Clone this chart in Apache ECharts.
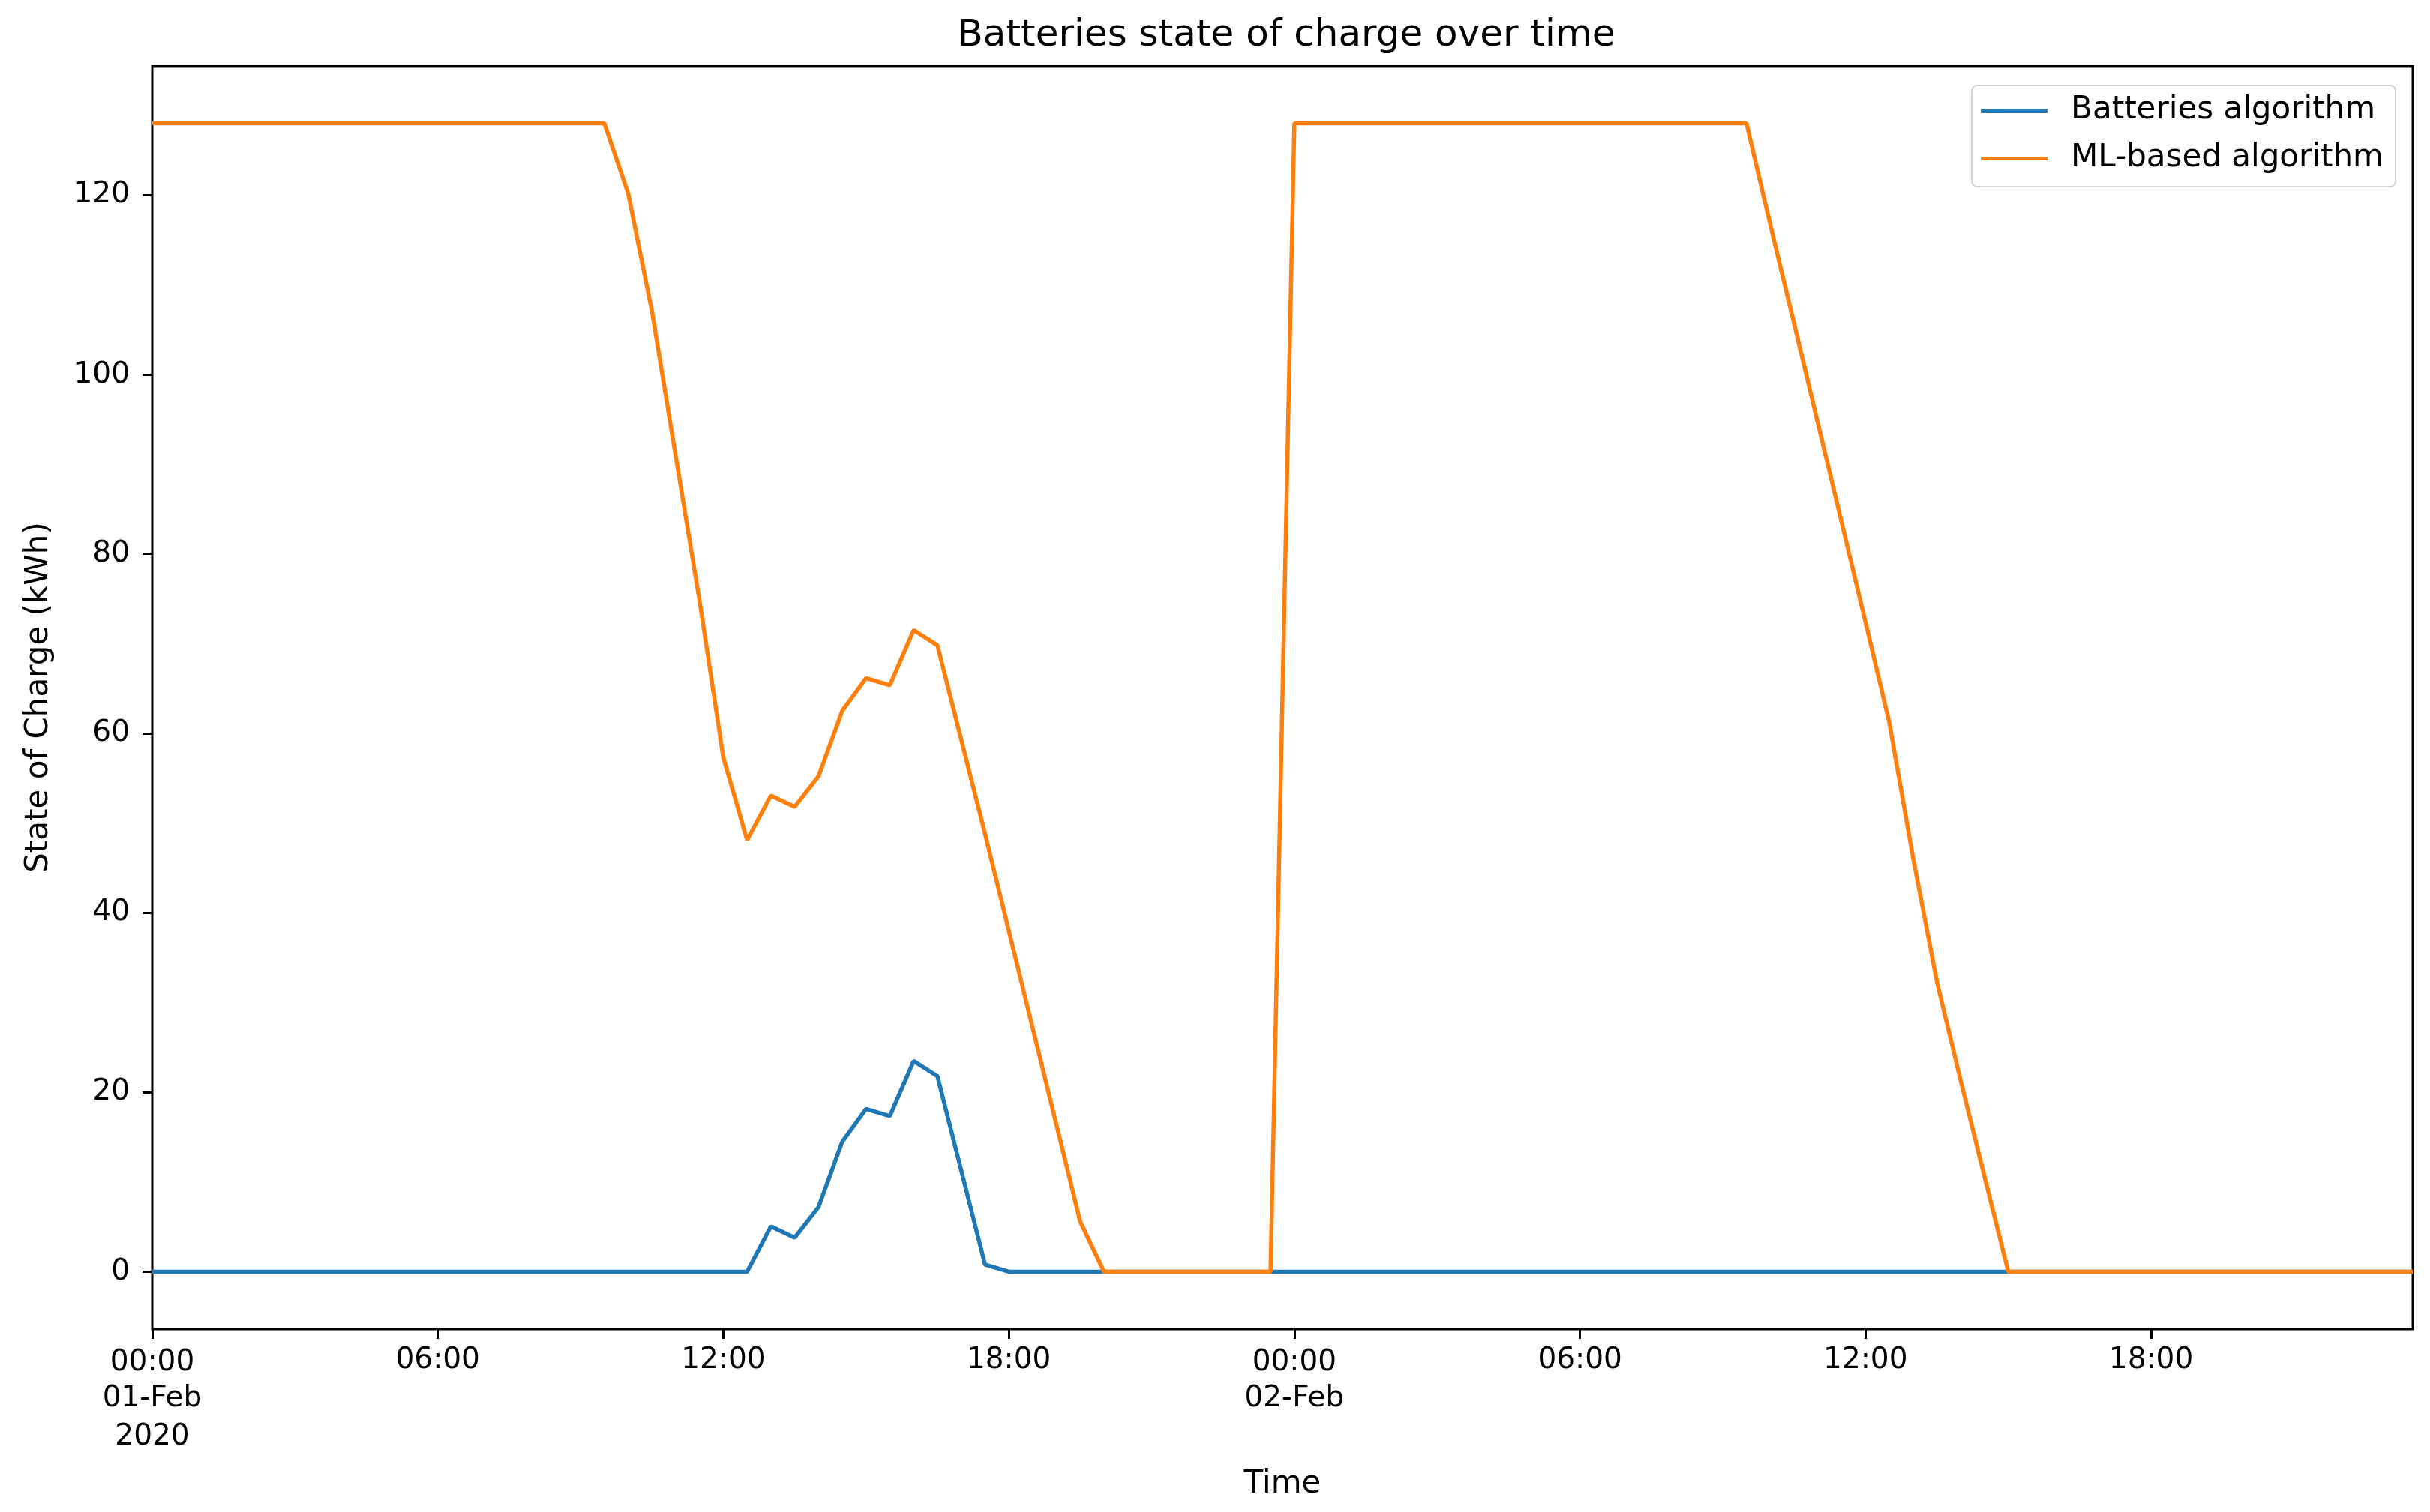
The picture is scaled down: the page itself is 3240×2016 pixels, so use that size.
<!DOCTYPE html>
<html><head><meta charset="utf-8">
<script src="https://cdn.jsdelivr.net/npm/echarts@6/dist/echarts.min.js"></script>
<style>html,body{margin:0;padding:0;background:#fff}#c{width:3240px;height:2016px}</style>
</head><body><div id="c"></div>
<script>
// Half-hourly timestamps, expressed as hours since 2020-02-01 00:00
const hours = Array.from({length: 96}, (_, i) => i * 0.5);
const seriesNames = ['Batteries algorithm', 'ML-based algorithm'];
const batteries = [
  0,0,0,0,0,0,0,0,0,0,0,0,0,0,0,0,0,0,0,0,0,0,0,0,0,0,
  5.05,3.8,7.2,14.5,18.15,17.35,23.5,21.8,11.3,0.8,
  0,0,0,0,0,0,0,0,0,0,0,0,0,0,0,0,0,0,0,0,0,0,0,0,0,0,0,0,0,0,
  0,0,0,0,0,0,0,0,0,0,0,0,0,0,0,0,0,0,0,0,0,0,0,0,0,0,0,0,0,0
];
const mlBased = [
  128,128,128,128,128,128,128,128,128,128,128,128,128,128,128,128,128,128,128,128,
  120.2,107.1,90.9,74.8,57.3,48.1,53.05,51.8,55.2,62.5,66.15,65.35,71.5,69.8,59.3,48.8,38.0,27.2,16.4,5.6,
  0,0,0,0,0,0,0,0,
  128,128,128,128,128,128,128,128,128,128,128,128,128,128,128,128,128,128,128,128,
  116.7,105.7,94.6,83.5,72.4,61.2,46.1,32.35,21.3,10.6,
  0,0,0,0,0,0,0,0,0,0,0,0,0,0,0,0,0,0
];
const xTickHours = [0, 6, 12, 18, 24, 30, 36, 42];
const xTickLabels = ['00:00\n01-Feb\n2020', '06:00', '12:00', '18:00', '00:00\n02-Feb', '06:00', '12:00', '18:00'];
const yTicks = [0, 20, 40, 60, 80, 100, 120];

const FONT = 'DejaVu Sans';
const chart = echarts.init(document.getElementById('c'), null, {renderer: 'canvas'});
const toPairs = arr => arr.map((v, i) => [hours[i], v]);

chart.setOption({
  animation: false,
  backgroundColor: '#fff',
  textStyle: {fontFamily: FONT},
  title: {
    text: 'Batteries state of charge over time',
    left: 1710, top: 13, textAlign: 'center',
    textStyle: {fontFamily: FONT, fontSize: 50, fontWeight: 'normal', color: '#000', lineHeight: 60}
  },
  legend: {
    orient: 'vertical', right: 46, top: 114,
    data: seriesNames,
    icon: 'rect', itemWidth: 89, itemHeight: 5, itemGap: 17,
    padding: [10, 16, 14, 12],
    borderColor: '#d4d4d4', borderWidth: 2, borderRadius: 7,
    backgroundColor: 'rgba(255,255,255,0.8)',
    textStyle: {fontFamily: FONT, fontSize: 42, color: '#000', lineHeight: 47, padding: [0, 0, 0, 26]}
  },
  grid: {
    left: 203, right: 23, top: 88, bottom: 244,
    show: true, borderColor: '#000', borderWidth: 3, backgroundColor: 'transparent'
  },
  xAxis: {
    type: 'value', min: 0, max: 47.5,
    name: 'Time', nameLocation: 'middle', nameGap: 184,
    nameTextStyle: {fontFamily: FONT, fontSize: 42, color: '#000', lineHeight: 46},
    axisLine: {show: false, onZero: false},
    splitLine: {show: false},
    axisTick: {show: true, length: 13, lineStyle: {color: '#000', width: 3}, customValues: xTickHours},
    axisLabel: {
      customValues: xTickHours, margin: 16,
      fontFamily: FONT, fontSize: 39, color: '#000', lineHeight: 51, align: 'center',
      formatter: v => {
        const k = xTickHours.indexOf(v);
        if (k < 0) return '';
        const lines = xTickLabels[k].split('\n');
        if (lines.length === 1) return lines[0];
        return '{f|' + lines[0] + '}\n' + lines.slice(1).join('\n');
      },
      rich: {f: {fontFamily: FONT, fontSize: 39, color: '#000', lineHeight: 51, padding: [7, 0, 0, 0]}}
    }
  },
  yAxis: {
    type: 'value', min: -6.4, max: 134.4,
    name: 'State of Charge (kWh)', nameLocation: 'middle', nameGap: 130, nameRotate: 90,
    nameTextStyle: {fontFamily: FONT, fontSize: 42, color: '#000'},
    axisLine: {show: false, onZero: false},
    splitLine: {show: false},
    axisTick: {show: true, length: 13, lineStyle: {color: '#000', width: 3}, customValues: yTicks},
    axisLabel: {customValues: yTicks, margin: 30, fontFamily: FONT, fontSize: 39, color: '#000'}
  },
  series: [
    {name: seriesNames[0], type: 'line', data: toPairs(batteries), symbol: 'none', showSymbol: false,
     itemStyle: {color: '#1f77b4'}, lineStyle: {color: '#1f77b4', width: 5.5}, z: 2},
    {name: seriesNames[1], type: 'line', data: toPairs(mlBased), symbol: 'none', showSymbol: false,
     itemStyle: {color: '#ff7f0e'}, lineStyle: {color: '#ff7f0e', width: 5.5}, z: 3}
  ]
});
</script></body></html>
